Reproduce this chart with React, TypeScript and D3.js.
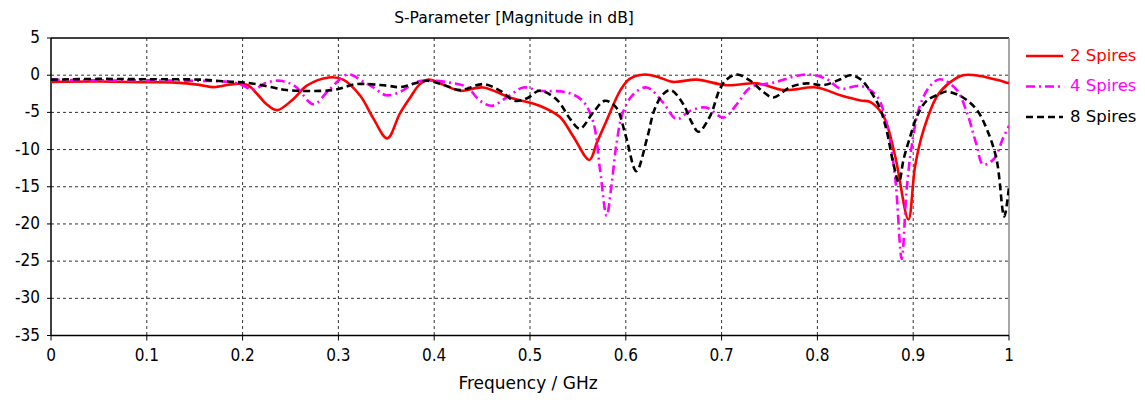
import React from 'react';
import * as d3 from 'd3';

// ---- Data (frequency in GHz, magnitude in dB) ----
const freq2 = [0, 0.05, 0.1, 0.13, 0.155, 0.17, 0.19, 0.205, 0.215, 0.225, 0.236, 0.253, 0.267, 0.29, 0.305, 0.323, 0.336, 0.351, 0.364, 0.375, 0.385, 0.394, 0.41, 0.427, 0.451, 0.479, 0.51, 0.531, 0.545, 0.562, 0.57, 0.58, 0.594, 0.604, 0.62, 0.635, 0.649, 0.674, 0.705, 0.737, 0.765, 0.799, 0.824, 0.845, 0.855, 0.869, 0.881, 0.895, 0.902, 0.911, 0.925, 0.938, 0.952, 0.97, 1.0];
const db2 = [-0.9, -0.85, -0.95, -1.0, -1.3, -1.6, -1.2, -1.3, -2.5, -3.9, -4.7, -3.2, -1.4, -0.3, -0.6, -2.8, -5.7, -8.5, -5.2, -3.0, -1.2, -0.6, -1.3, -2.1, -1.65, -3.0, -4.1, -5.6, -8.2, -11.4, -9.0, -6.1, -2.1, -0.5, 0.1, -0.3, -0.9, -0.6, -1.35, -1.1, -2.0, -1.65, -2.7, -3.4, -3.6, -5.5, -10.8, -19.4, -12.2, -7.3, -2.8, -1.0, 0.0, -0.1, -1.1];

const freq4 = [0, 0.05, 0.1, 0.15, 0.185, 0.197, 0.211, 0.225, 0.239, 0.255, 0.274, 0.29, 0.31, 0.325, 0.336, 0.35, 0.365, 0.382, 0.399, 0.416, 0.434, 0.448, 0.46, 0.479, 0.493, 0.51, 0.538, 0.555, 0.566, 0.573, 0.58, 0.585, 0.59, 0.597, 0.608, 0.622, 0.639, 0.653, 0.667, 0.684, 0.702, 0.716, 0.73, 0.754, 0.789, 0.81, 0.824, 0.845, 0.862, 0.872, 0.881, 0.888, 0.893, 0.898, 0.907, 0.918, 0.928, 0.945, 0.956, 0.966, 0.973, 0.984, 0.994, 1.0];
const db4 = [-0.6, -0.7, -0.7, -0.75, -0.9, -1.2, -1.9, -1.0, -0.75, -1.5, -3.9, -2.0, 0.1, -0.8, -1.6, -2.7, -2.2, -0.9, -0.75, -1.0, -1.6, -3.45, -4.1, -2.7, -1.65, -2.1, -2.3, -3.45, -6.3, -12.6, -18.9, -14.9, -9.5, -5.0, -2.55, -1.65, -3.7, -5.9, -4.8, -4.35, -5.7, -3.9, -1.65, -1.0, 0.1, -0.55, -1.8, -1.45, -2.8, -6.4, -13.5, -24.7, -15.7, -9.9, -4.1, -1.4, -0.55, -1.9, -5.0, -9.3, -12.0, -11.3, -8.4, -6.8];

const freq8 = [0, 0.05, 0.1, 0.156, 0.183, 0.204, 0.232, 0.246, 0.294, 0.319, 0.35, 0.365, 0.392, 0.41, 0.427, 0.451, 0.469, 0.484, 0.497, 0.51, 0.528, 0.542, 0.552, 0.566, 0.578, 0.59, 0.6, 0.611, 0.622, 0.63, 0.639, 0.647, 0.66, 0.669, 0.676, 0.688, 0.698, 0.705, 0.716, 0.73, 0.744, 0.754, 0.771, 0.789, 0.806, 0.824, 0.834, 0.845, 0.855, 0.865, 0.872, 0.879, 0.885, 0.89, 0.897, 0.904, 0.914, 0.928, 0.935, 0.952, 0.966, 0.977, 0.987, 0.995, 1.0];
const db8 = [-0.6, -0.5, -0.55, -0.6, -0.85, -1.0, -1.65, -2.0, -2.0, -1.2, -1.4, -1.6, -0.75, -1.3, -2.0, -1.2, -2.1, -3.45, -3.1, -2.1, -3.3, -5.9, -7.2, -5.0, -3.45, -4.35, -8.2, -12.9, -8.6, -4.6, -2.55, -2.0, -3.9, -6.4, -7.6, -5.5, -1.9, -0.6, 0.1, -0.75, -2.3, -3.0, -1.65, -1.1, -1.35, -0.55, 0.0, -0.55, -2.1, -4.35, -7.3, -11.7, -14.4, -11.3, -8.2, -5.5, -3.45, -2.5, -2.2, -3.0, -4.6, -7.3, -11.3, -19.0, -15.0];

const xTicks = [0, 0.1, 0.2, 0.3, 0.4, 0.5, 0.6, 0.7, 0.8, 0.9, 1];
const yTicks = [5, 0, -5, -10, -15, -20, -25, -30, -35];
const seriesNames = ['2 Spires', '4 Spires', '8 Spires'];

const W = 1145;
const H = 400;
const left = 51;
const right = 1009;
const top = 38;
const bottom = 335.5;

const FONT = 'DejaVu Sans, Verdana, sans-serif';
const FONT_C = 'DejaVu Sans Condensed, DejaVu Sans, sans-serif';

export default function App() {
  const x = d3.scaleLinear().domain([0, 1]).range([left, right]);
  const y = d3.scaleLinear().domain([-35, 5]).range([bottom, top]);

  const line = d3
    .line<[number, number]>()
    .x((d) => x(d[0]))
    .y((d) => y(d[1]))
    .curve(d3.curveCatmullRom.alpha(0.5));

  const series = [
    { name: seriesNames[0], f: freq2, v: db2, color: '#ff0000', dash: '' },
    { name: seriesNames[1], f: freq4, v: db4, color: '#ff00ff', dash: '9,4,2,4' },
    { name: seriesNames[2], f: freq8, v: db8, color: '#000000', dash: '7,4' },
  ];

  const xFmt = (v: number) => (v === 0 || v === 1 ? String(v) : d3.format('.1f')(v));

  return (
    <svg
      width={W}
      height={H}
      style={{ position: 'absolute', left: 0, top: 0, background: '#fff' }}
      fontFamily={FONT}
    >
      <defs>
        <clipPath id="plotClip">
          <rect x={left} y={top} width={right - left} height={bottom - top} />
        </clipPath>
      </defs>
      <rect x={0} y={0} width={W} height={H} fill="#fff" />

      {/* grid */}
      {xTicks.slice(1, -1).map((t) => (
        <line key={'gx' + t} x1={x(t)} x2={x(t)} y1={top} y2={bottom} stroke="#333" strokeWidth={1} strokeDasharray="3,3" />
      ))}
      {yTicks.slice(1, -1).map((t) => (
        <line key={'gy' + t} x1={left} x2={right} y1={y(t)} y2={y(t)} stroke="#333" strokeWidth={1} strokeDasharray="3,3" />
      ))}

      {/* frame */}
      <line x1={left} x2={right} y1={top} y2={top} stroke="#000" strokeWidth={1.5} />
      <line x1={right} x2={right} y1={top} y2={bottom} stroke="#888" strokeWidth={1.5} />
      <line x1={left} x2={left} y1={top} y2={bottom} stroke="#000" strokeWidth={1.5} />
      <line x1={left} x2={right} y1={bottom} y2={bottom} stroke="#000" strokeWidth={1.5} />

      {/* ticks */}
      {xTicks.map((t) => (
        <g key={'tx' + t}>
          <line x1={x(t)} x2={x(t)} y1={bottom} y2={bottom + 5} stroke="#000" strokeWidth={1} />
          <text x={x(t)} y={356} textAnchor="middle" dominantBaseline="middle" fontSize={17} fontFamily={FONT_C} fill="#000">
            {xFmt(t)}
          </text>
        </g>
      ))}
      {yTicks.map((t) => (
        <g key={'ty' + t}>
          <line x1={left - 4} x2={left} y1={y(t)} y2={y(t)} stroke="#000" strokeWidth={1} />
          <text x={40} y={y(t)} textAnchor="end" dominantBaseline="middle" fontSize={17} fontFamily={FONT_C} fill="#000">
            {t}
          </text>
        </g>
      ))}

      {/* series */}
      <g clipPath="url(#plotClip)">
        {series.map((s) => (
          <path
            key={s.name}
            d={line(s.f.map((f, i) => [f, s.v[i]] as [number, number])) || ''}
            fill="none"
            stroke={s.color}
            strokeWidth={2.6}
            strokeDasharray={s.dash || undefined}
            strokeLinejoin="round"
          />
        ))}
      </g>

      {/* title & axis label */}
      <text x={514} y={18} textAnchor="middle" dominantBaseline="middle" fontSize={15.5} fill="#000">
        S-Parameter [Magnitude in dB]
      </text>
      <text x={528} y={384} textAnchor="middle" dominantBaseline="middle" fontSize={17} fill="#000">
        Frequency / GHz
      </text>

      {/* legend */}
      {series.map((s, i) => (
        <g key={'lg' + s.name}>
          <line
            x1={1026}
            x2={1063}
            y1={56 + i * 30.5}
            y2={56 + i * 30.5}
            stroke={s.color}
            strokeWidth={2.6}
            strokeDasharray={s.dash || undefined}
          />
          <text x={1070} y={56 + i * 30.5} dominantBaseline="middle" fontSize={16.5} fill={s.color}>
            {s.name}
          </text>
        </g>
      ))}
    </svg>
  );
}
